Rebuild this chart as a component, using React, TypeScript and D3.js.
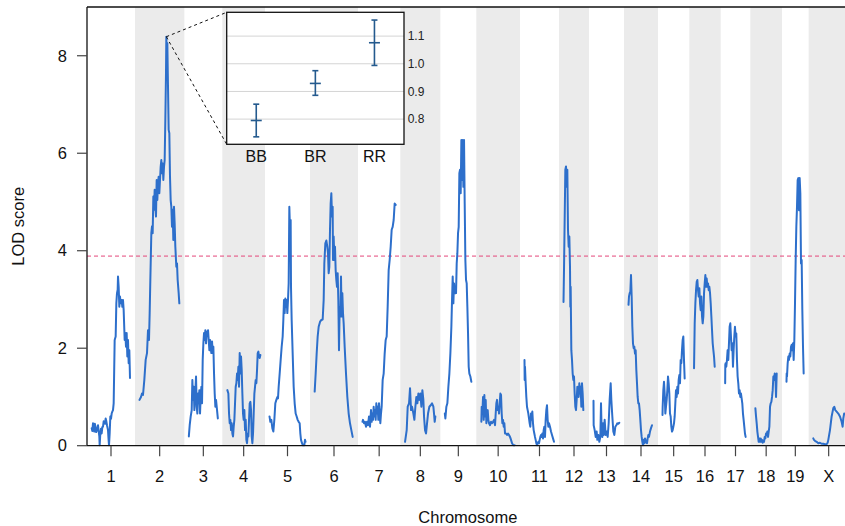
import React from 'react';
import * as d3 from 'd3';

// ---------- data ----------
const chrNames = ['1','2','3','4','5','6','7','8','9','10','11','12','13','14','15','16','17','18','19','X'];
const chrLengths = [117,121,87,101,108,117,100,93,81,104,90,63,78,75,67,67,62,68,53,93]; // cM
const gapCM = 27;
const lodThreshold = 3.89;
const yTicks = [0, 2, 4, 6, 8];
const yMax = 9;

// [position cM, LOD]
const lodChr1 = [[0.5,0.36],[2.5,0.3],[4.5,0.46],[6.5,0.33],[8.5,0.29],[10,0.45],[11.5,0.4],[14,0.28],[16.5,0.32],[19.5,0.42],[21.5,0.3],[23.5,0.19],[24.5,0.01],[26.5,0.25],[28.5,0.35],[30.5,0.25],[32.5,0.38],[34.5,0.39],[36.5,0.5],[38.5,0.49],[40.5,0.45],[42.5,0.56],[44.5,0.5],[46.5,0.42],[49.5,0.32],[51,0.15],[52.5,0.01],[54.5,0.25],[56.5,0.6],[58.5,0.55],[60.5,0.66],[62.5,0.7],[64.5,0.73],[66.5,0.87],[69.5,2.17],[72.5,2.24],[74.5,2.92],[76.5,3.13],[78.5,3.2],[79.5,3.47],[81.5,3.26],[83.5,2.85],[85.5,3.06],[87.5,2.92],[90.5,2.99],[92.5,2.85],[94.5,2.99],[96.5,2.78],[99.5,2.17],[101.5,2.31],[103.5,2.03],[105.5,2.31],[107.5,1.83],[109.5,2.17],[111.5,1.69],[113.5,1.96],[115.5,1.39]];
const lodChr2 = [[0,0.94],[4.5,1.0],[7.5,1.07],[10.5,1.04],[14.5,1.35],[18.5,1.76],[22.5,1.9],[25.5,2.37],[28.5,2.17],[30.5,2.72],[32.5,3.4],[35.5,4.36],[37.5,4.5],[39.5,4.36],[41.5,5.11],[43.5,4.84],[45.5,5.25],[47.5,4.9],[49.5,4.7],[51.5,5.45],[53.5,5.04],[55.5,5.38],[57.5,5.52],[59.5,5.18],[61.5,5.45],[63.5,5.72],[65.5,5.86],[67.5,5.59],[69.5,5.79],[71.5,5.45],[73.5,5.72],[75.5,5.86],[77.5,6.68],[79.5,7.64],[80.5,8.39],[82.5,7.71],[83.5,8.26],[85.5,7.37],[87.5,6.48],[89.5,6.41],[91.5,5.52],[93.5,5.04],[95.5,4.9],[97.5,4.49],[99.5,4.84],[101.5,4.22],[103.5,4.9],[105.5,4.56],[107.5,4.08],[110.5,3.67],[112.5,3.74],[114.5,3.4],[117.5,3.13],[119.5,2.92]];
const lodChr3 = [[0,0.19],[2.6,0.42],[5.6,0.6],[8.6,0.73],[10.6,1.35],[12.6,0.94],[14.6,1.21],[16.6,0.73],[18.6,1.0],[21.6,1.42],[23.6,0.8],[25.6,0.66],[27.6,1.07],[29.6,0.87],[31.6,1.14],[33.6,0.66],[35.6,1.0],[37.6,1.21],[39.6,0.87],[41.6,1.76],[43.6,2.1],[45.6,2.31],[47.6,2.17],[49.6,2.37],[51.6,2.1],[53.6,2.34],[55.6,2.27],[57.6,2.37],[59.6,2.17],[61.6,1.96],[63.6,2.17],[65.6,2.0],[67.6,1.9],[69.6,2.14],[71.6,1.9],[73.6,2.03],[75.6,1.48],[77.6,1.07],[79.6,0.8],[81.6,0.94],[84.6,0.73],[87,0.56]];
const lodChr4 = [[1.6,1.14],[4.6,1.07],[6.6,0.66],[8.6,0.46],[10.6,0.53],[12.6,0.32],[14.6,0.46],[16.6,0.25],[18.6,0.19],[20.6,0.39],[22.6,0.53],[24.6,0.87],[26.6,1.21],[28.6,1.28],[30.6,1.48],[32.6,1.35],[34.6,1.62],[36.6,1.21],[38.6,1.9],[40.6,1.48],[42.6,1.83],[44.6,1.55],[46.6,1.07],[48.6,0.66],[50.6,0.53],[52.6,0.73],[54.6,0.32],[56.6,0.53],[58.6,0.12],[60.6,0.05],[62.6,0.25],[64.6,0.19],[66.6,0.53],[68.6,0.87],[70.6,0.9],[72.6,0.73],[74.6,0.19],[76.6,0.05],[78.6,0.25],[80.6,0.66],[82.6,1.07],[84.6,1.21],[86.6,1.35],[88.6,1.28],[90.6,1.55],[92.6,1.9],[94.6,1.93],[96.6,1.83],[98.6,1.8],[100.6,1.86]];
const lodChr5 = [[0,0.6],[2.5,0.49],[5.5,0.53],[8.5,0.36],[11.5,0.29],[14.5,0.53],[17.5,0.87],[20.5,0.94],[23.5,1.0],[25.5,0.97],[27.5,1.21],[30.5,1.48],[33.5,1.76],[36.5,2.03],[39.5,2.24],[41.5,2.58],[43.5,2.99],[45.5,2.72],[47.5,3.02],[49.5,2.85],[51.5,2.99],[53.5,2.72],[55.5,2.99],[57.5,3.33],[59.5,4.9],[61.5,4.43],[62.5,3.95],[63.5,4.63],[64.5,3.26],[66.5,2.58],[69.5,1.89],[72.5,1.21],[75.5,0.87],[78.5,0.66],[81.5,0.6],[84.5,0.53],[87.5,0.49],[90.5,0.46],[92.5,0.25],[94.5,0.12],[97.5,0.05],[100.5,0.01],[104.5,0.01],[106.5,0.12],[108,0.08]];
const lodChr6 = [[0.5,1.11],[3.5,1.48],[6.5,1.89],[9.5,2.24],[12.5,2.44],[16.5,2.54],[20.5,2.58],[24.5,2.59],[27.5,2.99],[29.5,3.74],[32.5,4.15],[35.5,4.21],[38.5,4.08],[40.5,3.95],[42.5,3.54],[44.5,3.67],[46.5,4.43],[48.5,4.97],[50.5,5.18],[52.5,4.7],[54.5,4.9],[55.5,3.81],[57.5,4.29],[59.5,3.81],[61.5,4.08],[63.5,3.6],[65.5,3.4],[67.5,3.26],[69.5,3.54],[71.5,2.99],[73.5,1.96],[75.5,2.85],[77.5,2.65],[79.5,3.47],[81.5,2.65],[83.5,3.13],[85.5,2.72],[87.5,2.51],[90.5,2.03],[94.5,1.48],[98.5,1.0],[102.5,0.66],[106.5,0.46],[110.5,0.32],[114.5,0.18]];
const lodChr7 = [[0,0.49],[1.5,0.53],[4.5,0.46],[7.5,0.49],[10.5,0.39],[13.5,0.49],[16.5,0.42],[19.5,0.6],[22.5,0.39],[25.5,0.73],[27.5,0.49],[29.5,0.66],[31.5,0.53],[33.5,0.8],[35.5,0.6],[37.5,0.73],[39.5,0.53],[41.5,0.87],[43.5,0.66],[45.5,0.8],[47.5,0.53],[49.5,0.87],[51.5,0.66],[53.5,0.46],[55.5,0.66],[57.5,0.8],[60.5,1.35],[63.5,1.48],[66.5,1.89],[69.5,2.17],[72.5,2.24],[75.5,2.85],[78.5,3.6],[81.5,3.81],[84.5,4.08],[87.5,4.43],[90.5,4.49],[93.5,4.63],[96.5,4.97],[99.5,4.94]];
const lodChr8 = [[0.6,0.08],[5.6,0.32],[8.6,0.8],[12.6,0.87],[15.6,1.18],[18.6,0.73],[21.6,0.8],[25.6,0.66],[28.6,0.53],[31.6,0.8],[34.6,1.0],[37.6,0.87],[40.6,1.07],[43.6,0.94],[46.6,1.07],[49.6,0.8],[52.6,1.14],[55.6,0.94],[57.6,0.6],[60.6,0.32],[63.6,0.25],[66.6,0.46],[69.6,0.66],[73.6,0.8],[77.6,0.83],[81.6,0.87],[85.6,0.8],[87.6,0.66],[89.6,0.49],[91.6,0.6]];
const lodChr9 = [[0,0.66],[1.6,0.56],[4.6,0.8],[7.6,0.87],[10.6,1.21],[13.6,1.48],[16.6,1.89],[19.6,2.44],[21.6,2.99],[23.6,3.47],[25.6,2.92],[27.6,3.33],[29.6,3.13],[31.6,3.26],[33.6,3.13],[35.6,3.74],[37.6,3.95],[39.6,4.36],[41.6,4.49],[43.6,5.59],[45.6,5.66],[47.6,5.18],[49.6,6.27],[51.6,5.45],[53.6,6.27],[55.6,5.31],[57.6,6.27],[59.6,4.97],[61.6,3.81],[63.6,3.4],[65.6,3.33],[67.6,2.85],[69.6,2.31],[71.6,1.62],[73.6,1.48],[76.6,1.42],[79.6,1.31]];
const lodChr10 = [[1.6,0.49],[2.6,0.8],[4.6,0.66],[6.6,1.0],[8.6,0.53],[10.6,1.04],[12.6,0.6],[14.6,0.94],[16.6,0.46],[18.6,0.66],[20.6,0.73],[22.6,0.53],[24.6,0.46],[27.6,0.42],[30.6,0.49],[33.6,0.46],[36.6,0.49],[39.6,0.53],[42.6,0.42],[44.6,0.66],[46.6,0.87],[48.6,0.94],[50.6,0.73],[52.6,0.8],[54.6,0.66],[56.6,0.87],[58.6,1.07],[60.6,1.04],[62.6,0.66],[64.6,0.46],[66.6,0.53],[68.6,0.39],[70.6,0.46],[72.6,0.25],[75.6,0.25],[78.6,0.22],[81.6,0.25],[84.6,0.22],[87.6,0.18],[90.6,0.12],[93.6,0.05],[97.6,0.01],[101.6,0.01]];
const lodChr11 = [[0,1.76],[0.5,1.35],[1.5,1.62],[3.5,1.28],[5.5,1.0],[7.5,0.8],[9.5,0.73],[11.5,0.66],[13.5,0.56],[15.5,0.46],[17.5,0.39],[19.5,0.66],[21.5,0.53],[23.5,0.7],[25.5,0.46],[27.5,0.32],[29.5,0.25],[31.5,0.18],[33.5,0.12],[35.5,0.05],[37.5,0.01],[39.5,0.05],[41.5,0.08],[43.5,0.05],[45.5,0.12],[47.5,0.18],[49.5,0.22],[51.5,0.18],[53.5,0.25],[55.5,0.15],[57.5,0.32],[59.5,0.39],[61.5,0.18],[63.5,0.53],[65.5,0.73],[67.5,0.83],[69.5,0.53],[71.5,0.39],[73.5,0.46],[76.5,0.39],[79.5,0.29],[82.5,0.22],[85.5,0.15],[88.5,0.08]];
const lodChr12 = [[0,2.95],[1.5,3.6],[3.5,4.63],[5.5,5.66],[7.5,5.73],[9.5,5.31],[11.5,5.66],[13.5,4.43],[15.5,4.08],[17.5,4.29],[19.5,3.67],[20.5,2.85],[21.5,3.26],[23.5,1.96],[25.5,1.76],[27.5,1.48],[29.5,1.35],[31.5,1.42],[33.5,1.07],[35.5,0.8],[37.5,0.73],[39.5,0.94],[41.5,1.21],[43.5,1.07],[45.5,1.0],[47.5,1.28],[49.5,1.07],[51.5,1.21],[53.5,0.8],[55.5,1.28],[57.5,1.07],[59.5,0.73]];
const lodChr13 = [[0,0.92],[0.5,0.42],[3.5,0.32],[6.5,0.18],[9.5,0.29],[11.5,0.12],[14.5,0.22],[17.5,0.08],[20.5,0.18],[22.5,0.87],[24.5,0.29],[26.5,0.18],[28.5,0.46],[30.5,0.22],[33.5,0.53],[36.5,0.22],[39.5,0.29],[42.5,0.18],[45.5,0.46],[48.5,0.94],[51.5,1.28],[53.5,0.94],[56.5,0.6],[59.5,0.29],[62.5,0.22],[65.5,0.39],[68.5,0.42],[71.5,0.46],[74.5,0.45],[77.5,0.47]];
const lodChr14 = [[0,2.89],[1.5,3.06],[3.5,3.13],[5.5,3.16],[7.5,3.5],[9.5,3.06],[11.5,2.44],[13.5,2.1],[15.5,2.0],[17.5,2.03],[19.5,1.89],[21.5,1.96],[23.5,1.55],[25.5,1.28],[27.5,1.0],[29.5,0.87],[31.5,0.87],[33.5,0.73],[35.5,0.53],[37.5,0.32],[39.5,0.18],[41.5,0.08],[43.5,0.01],[45.5,0.12],[47.5,0.05],[49.5,0.15],[51.5,0.1],[53.5,0.06],[55.5,0.05],[57.5,0.15],[59.5,0.22],[61.5,0.18],[64.5,0.29],[67.5,0.36],[70.5,0.42]];
const lodChr15 = [[0,0.63],[0.5,0.8],[2.5,1.14],[4.5,1.31],[6.5,1.07],[8.5,0.66],[10.5,0.8],[12.5,0.94],[14.5,1.14],[16.5,1.42],[18.5,1.28],[20.5,1.07],[22.5,0.66],[24.5,0.6],[26.5,0.39],[28.5,0.29],[30.5,0.32],[32.5,0.39],[34.5,0.46],[36.5,0.6],[38.5,0.87],[40.5,1.14],[42.5,1.0],[44.5,1.21],[46.5,1.07],[48.5,1.35],[50.5,1.45],[52.5,1.28],[54.5,1.76],[56.5,1.69],[58.5,1.96],[60.5,2.17],[62.5,2.24],[64.5,1.76],[66.5,1.38]];
const lodChr16 = [[0.6,1.59],[2.6,2.51],[4.6,2.92],[6.6,3.19],[8.6,3.36],[10.6,3.4],[12.6,3.19],[14.6,3.06],[16.6,3.23],[18.6,2.92],[20.6,2.78],[22.6,3.06],[24.6,2.65],[26.6,2.51],[28.6,2.65],[30.6,3.13],[32.6,3.33],[34.6,3.5],[36.6,3.26],[38.6,3.43],[40.6,3.26],[42.6,3.33],[44.6,3.19],[46.6,3.26],[48.6,3.13],[50.6,2.92],[52.6,2.65],[54.6,2.37],[56.6,2.1],[58.6,1.96],[60.6,1.83],[62.6,1.62]];
const lodChr17 = [[0,1.28],[0.4,1.66],[1.4,1.69],[3.4,1.62],[5.4,1.76],[7.4,1.96],[9.4,1.76],[11.4,2.1],[13.4,2.44],[15.4,2.51],[17.4,2.24],[19.4,1.96],[21.4,2.1],[23.4,1.62],[25.4,1.96],[27.4,2.24],[29.4,2.44],[31.4,2.24],[33.4,2.3],[35.4,1.76],[37.4,1.42],[39.4,1.28],[41.4,1.07],[43.4,1.14],[45.4,1.0],[47.4,1.07],[49.4,0.97],[51.4,0.87],[53.4,0.66],[55.4,0.53],[57.4,0.39],[59.4,0.25],[61.4,0.18]];
const lodChr18 = [[1.6,0.77],[3.6,0.6],[5.6,0.46],[7.6,0.29],[9.6,0.18],[11.6,0.08],[13.6,0.15],[15.6,0.08],[17.6,0.15],[19.6,0.08],[21.6,0.12],[23.6,0.06],[25.6,0.1],[27.6,0.08],[29.6,0.18],[31.6,0.15],[33.6,0.25],[35.6,0.22],[37.6,0.29],[39.6,0.18],[41.6,0.29],[43.6,0.39],[45.6,0.8],[47.6,0.87],[49.6,0.9],[51.6,1.0],[53.6,1.14],[55.6,1.42],[57.6,1.35],[59.6,1.48],[61.6,1.42],[63.6,1.0],[65.6,1.48]];
const lodChr19 = [[0,1.31],[0.5,1.48],[1.5,1.42],[3.5,1.69],[5.5,1.83],[7.5,1.76],[9.5,1.89],[11.5,1.83],[13.5,2.03],[15.5,2.07],[17.5,1.96],[19.5,2.1],[21.5,1.76],[23.5,2.17],[25.5,2.92],[27.5,3.81],[29.5,4.49],[31.5,4.9],[33.5,5.45],[35.5,5.49],[37.5,4.83],[39.5,5.49],[41.5,5.18],[43.5,3.74],[45.5,3.81],[47.5,2.78],[49.5,2.03],[51.5,1.48]];
const lodChrX = [[0.4,0.15],[2.4,0.12],[5.4,0.1],[10.4,0.08],[15.4,0.05],[20.4,0.06],[25.4,0.04],[30.4,0.04],[35.4,0.03],[40.4,0.03],[43.4,0.06],[45.4,0.12],[50.4,0.32],[55.4,0.6],[60.4,0.77],[63.4,0.8],[66.4,0.73],[70.4,0.7],[75.4,0.66],[80.4,0.6],[85.4,0.49],[88.4,0.39],[90.4,0.56],[93,0.66]];

const lodByChr = [lodChr1, lodChr2, lodChr3, lodChr4, lodChr5, lodChr6, lodChr7, lodChr8, lodChr9, lodChr10,
  lodChr11, lodChr12, lodChr13, lodChr14, lodChr15, lodChr16, lodChr17, lodChr18, lodChr19, lodChrX];

// inset: phenotype effect at chr2 peak
const effectGenotypes = ['BB', 'BR', 'RR'];
const effectMeans = [0.795, 0.929, 1.076];
const effectLower = [0.736, 0.886, 0.994];
const effectUpper = [0.854, 0.975, 1.158];
const effectTicks = [0.8, 0.9, 1.0, 1.1];
const effectDomain = [0.709, 1.186];

// ---------- layout ----------
const W = 845, H = 526;
const M = { left: 87, top: 7, bottom: 445.7 };
const FONT = 'Liberation Sans, Arial, Helvetica, sans-serif';
const LINE_BLUE = '#2d6fcb';
const BAND_GRAY = '#ebebeb';
const THRESH_COLOR = '#e4477a';
const INSET = { x0: 226.7, x1: 404, y0: 12.3, y1: 144.3 };
const ERR_COLOR = '#245a8e';

export default function App() {
  const chrStarts: number[] = [];
  let acc = gapCM / 2;
  chrLengths.forEach((L) => { chrStarts.push(acc); acc += L + gapCM; });
  const totalCM = acc - gapCM / 2;

  const x = d3.scaleLinear().domain([0, totalCM]).range([M.left, M.left + totalCM / 3]);
  const y = d3.scaleLinear().domain([0, yMax]).range([M.bottom, M.top]);
  const plotRight = x(totalCM);

  const line = d3.line<number[]>().x((d) => d[0]).y((d) => d[1]);

  // inset scales
  const ex = d3.scalePoint<string>().domain(effectGenotypes).range([INSET.x0, INSET.x1]).padding(0.5);
  const ey = d3.scaleLinear().domain(effectDomain).range([INSET.y1, INSET.y0]);

  // chr2 peak
  const peak = d3.greatest(lodChr2, (d) => d[1])!;
  const px = x(chrStarts[1] + peak[0]);
  const py = y(peak[1]);

  return (
    <svg width={W} height={H} style={{ position: 'absolute', left: 0, top: 0, display: 'block', background: '#fff' }}
      fontFamily={FONT}>
      <rect x={0} y={0} width={W} height={H} fill="#fff" />
      {/* chromosome bands */}
      {chrNames.map((c, i) => i % 2 === 1 ? (
        <rect key={'b' + c} x={x(chrStarts[i] - gapCM / 2)} y={M.top}
          width={x(chrStarts[i] + chrLengths[i] + gapCM / 2) - x(chrStarts[i] - gapCM / 2)}
          height={M.bottom - M.top} fill={BAND_GRAY} />
      ) : null)}
      {/* threshold */}
      <line x1={M.left} x2={plotRight} y1={y(lodThreshold)} y2={y(lodThreshold)}
        stroke={THRESH_COLOR} strokeWidth={1} strokeDasharray="4,3" />
      {/* LOD curves */}
      {lodByChr.map((pts, i) => (
        <path key={'l' + i}
          d={line(pts.map((d) => [x(chrStarts[i] + d[0]), y(d[1])])) || ''}
          fill="none" stroke={LINE_BLUE} strokeWidth={2} strokeLinejoin="round" strokeLinecap="round" />
      ))}
      {/* connectors */}
      <line x1={px} y1={py} x2={INSET.x0} y2={INSET.y0} stroke="#111" strokeWidth={1} strokeDasharray="3,3" />
      <line x1={px} y1={py} x2={INSET.x0} y2={INSET.y1} stroke="#111" strokeWidth={1} strokeDasharray="3,3" />
      {/* inset */}
      <rect x={INSET.x0} y={INSET.y0} width={INSET.x1 - INSET.x0} height={INSET.y1 - INSET.y0} fill="#fff" />
      {effectTicks.map((t) => (
        <line key={'g' + t} x1={INSET.x0} x2={INSET.x1} y1={ey(t)} y2={ey(t)} stroke="#d4d4d4" strokeWidth={1} />
      ))}
      {effectGenotypes.map((g, i) => {
        const cx = ex(g)!;
        return (
          <g key={'e' + g} stroke={ERR_COLOR} strokeWidth={1.6}>
            <line x1={cx} x2={cx} y1={ey(effectLower[i])} y2={ey(effectUpper[i])} />
            <line x1={cx - 3} x2={cx + 3} y1={ey(effectLower[i])} y2={ey(effectLower[i])} />
            <line x1={cx - 3} x2={cx + 3} y1={ey(effectUpper[i])} y2={ey(effectUpper[i])} />
            <line x1={cx - 5.5} x2={cx + 5.5} y1={ey(effectMeans[i])} y2={ey(effectMeans[i])} />
          </g>
        );
      })}
      <rect x={INSET.x0} y={INSET.y0} width={INSET.x1 - INSET.x0} height={INSET.y1 - INSET.y0}
        fill="none" stroke="#111" strokeWidth={1.3} />
      {effectTicks.map((t) => (
        <text key={'et' + t} x={INSET.x1 + 3.7} y={ey(t)} dy="0.35em" fontSize={12} fill="#222">{t.toFixed(1)}</text>
      ))}
      {effectGenotypes.map((g) => (
        <text key={'eg' + g} x={ex(g)!} y={162} textAnchor="middle" fontSize={16} fill="#111">{g}</text>
      ))}
      {/* frame / axes */}
      <line x1={M.left} x2={plotRight} y1={M.top} y2={M.top} stroke="#111" strokeWidth={1.3} />
      <line x1={M.left} x2={M.left} y1={M.top} y2={M.bottom} stroke="#111" strokeWidth={1.3} />
      <line x1={M.left} x2={plotRight} y1={M.bottom} y2={M.bottom} stroke="#111" strokeWidth={1.3} />
      <line x1={plotRight} x2={plotRight} y1={M.top} y2={M.bottom} stroke="#111" strokeWidth={1.3} />
      {yTicks.map((t) => (
        <g key={'yt' + t}>
          <line x1={M.left - 10} x2={M.left} y1={y(t)} y2={y(t)} stroke="#444" strokeWidth={1.2} />
          <text x={67} y={y(t)} dy="0.35em" textAnchor="end" fontSize={16.5} fill="#111">{t}</text>
        </g>
      ))}
      {chrNames.map((c, i) => {
        const cx = x(chrStarts[i] + chrLengths[i] / 2);
        return (
          <g key={'xt' + c}>
            <line x1={cx} x2={cx} y1={M.bottom} y2={M.bottom + 10.5} stroke="#444" strokeWidth={1.2} />
            <text x={cx} y={482} textAnchor="middle" fontSize={16.5} fill="#111">{c}</text>
          </g>
        );
      })}
      <text x={(M.left + plotRight) / 2} y={523} textAnchor="middle" fontSize={16.5} fill="#111">Chromosome</text>
      <text transform={`translate(23.5, ${(M.top + M.bottom) / 2}) rotate(-90)`} textAnchor="middle" fontSize={16.5} fill="#111">LOD score</text>
    </svg>
  );
}
